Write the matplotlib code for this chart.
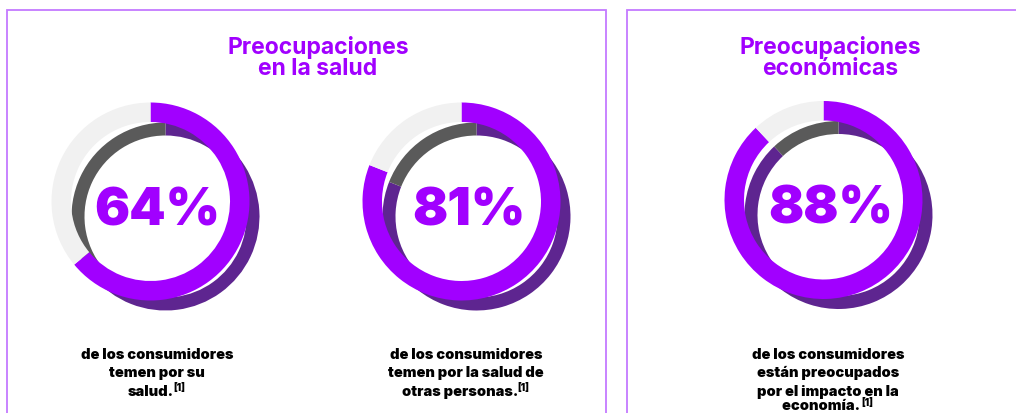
import matplotlib
matplotlib.use("Agg")
import matplotlib.pyplot as plt
from matplotlib.patches import Rectangle

# ---------------- data ----------------
percentages = [64, 81, 88]
pct_labels = ["64%", "81%", "88%"]
panel_titles = [["Preocupaciones", "en la salud"], ["Preocupaciones", "económicas"]]
captions = [
    ["de los consumidores", "temen por su", "salud."],
    ["de los consumidores", "temen por la salud de", "otras personas."],
    ["de los consumidores", "están preocupados", "por el impacto en la", "economía. "],
]
footnote = "[1]"

# ---------------- style / layout ----------------
W, H = 1016, 413
PURPLE = "#A100FF"
DARK_PURPLE = "#5E2590"
LIGHT_GRAY = "#F1F1F1"
DARK_GRAY = "#5A5A5A"
BORDER = "#C47AFF"

donut_centers = [(150.5, 201.5), (461.5, 201.5), (823.5, 200.0)]  # pixel, y from top
R_FRONT, W_FRONT = 99, 19.5
R_BACK, W_BACK = 94, 13
SHADOW = (15, 15)
caption_x = [157, 466, 828]
caption_base = 359
caption_step = 18.3
title_x = [318, 830]

fig = plt.figure(figsize=(W / 100, H / 100), dpi=100)
ax = fig.add_axes([0, 0, 1, 1])

def Y(y):  # convert from top-based pixel to axis coords
    return H - y

# panel boxes
ax.add_patch(Rectangle((7, Y(440)), 599, 430, fill=False, edgecolor=BORDER, lw=1.3))
ax.add_patch(Rectangle((627, Y(440)), 420, 430, fill=False, edgecolor=BORDER, lw=1.3))

# titles
for tx, lines in zip(title_x, panel_titles):
    for i, line in enumerate(lines):
        ax.text(tx, Y(54 + 21 * i), line, ha="center", va="baseline",
                fontsize=16.5, family="Inter", fontweight=700, color=PURPLE)

# donuts
for (cx, cy), p, lab in zip(donut_centers, percentages, pct_labels):
    vals = [p, 100 - p]
    ax.pie(vals, radius=R_BACK, center=(cx + SHADOW[0], Y(cy + SHADOW[1])),
           startangle=90, counterclock=False, colors=[DARK_PURPLE, DARK_GRAY],
           wedgeprops=dict(width=W_BACK, edgecolor="none", linewidth=0))
    ax.pie(vals, radius=R_FRONT, center=(cx, Y(cy)),
           startangle=90, counterclock=False, colors=[PURPLE, LIGHT_GRAY],
           wedgeprops=dict(width=W_FRONT, edgecolor="none", linewidth=0))
    ax.text(cx + 7, Y(cy + 24), lab, ha="center", va="baseline",
            fontsize=37.5, family="Inter", fontweight=900, color=PURPLE)

ax.set_xlim(0, W)
ax.set_ylim(0, H)
ax.set_aspect("equal")
ax.axis("off")

# captions
renderer = fig.canvas.get_renderer()
for cxp, lines in zip(caption_x, captions):
    for i, line in enumerate(lines):
        yb = min(caption_base + caption_step * i, 410.5)
        if i < len(lines) - 1:
            ax.text(cxp, Y(yb), line, ha="center", va="baseline",
                    fontsize=10.5, family="Inter", fontweight=900, color="black")
        else:
            t = ax.text(0, Y(yb), line, ha="left", va="baseline",
                        fontsize=10.5, family="Inter", fontweight=900, color="black")
            s = ax.text(0, Y(yb - 4.5), footnote, ha="left", va="baseline",
                        fontsize=7, family="Inter", fontweight=900, color="black")
            w1 = t.get_window_extent(renderer).width
            w2 = s.get_window_extent(renderer).width
            x0 = cxp - (w1 + w2) / 2
            t.set_x(x0)
            s.set_x(x0 + w1 - 1)

fig.savefig("out.png", dpi=100)
